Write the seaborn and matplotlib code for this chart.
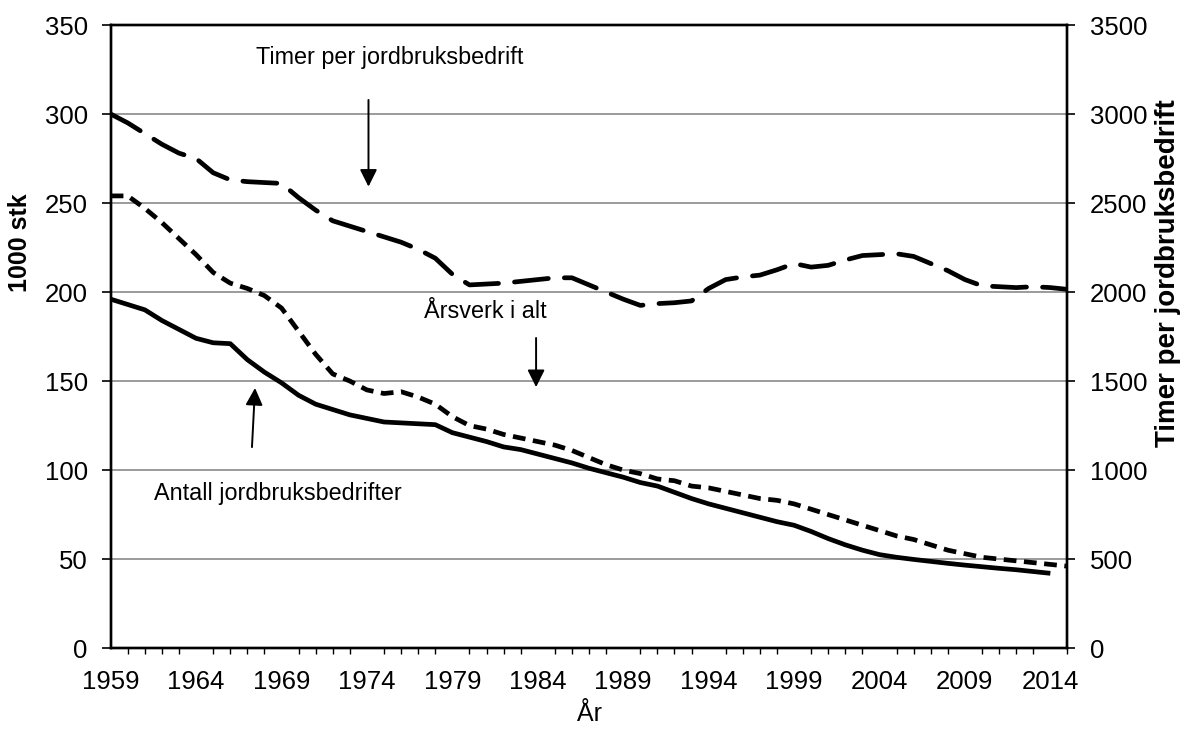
import numpy as np
import pandas as pd
import matplotlib
matplotlib.use("Agg")
import matplotlib.pyplot as plt
from matplotlib.ticker import FixedLocator, MultipleLocator
import seaborn as sns

# ---- data ----
years = list(range(1959, 2016))

antall = [196, 193, 190, 184, 179, 174, 171.5, 171, 162, 155,
          149, 142, 137, 134, 131, 129, 127, 126.5, 126, 125.5,
          121, 118.5, 116, 113, 111.5, 109, 106.5, 104, 101, 98.5,
          96, 93, 91, 87.5, 84, 81, 78.5, 76, 73.5, 71,
          69, 65.5, 61.5, 58, 55, 52.5, 51, 49.8, 48.7, 47.6,
          46.6, 45.7, 44.8, 44, 43, 42, np.nan]

arsverk = [254, 254, 247, 239, 230, 221, 211, 205, 202, 198,
           191, 178, 165, 154, 150, 145, 143, 144, 141, 137,
           130, 125, 123, 120, 118, 116, 114, 111, 107, 103,
           100, 98, 95, 94, 91, 90, 88, 86, 84, 83,
           81, 78, 75, 72, 69, 66, 63, 61, 58, 55,
           53, 51, 50, 49, 48, 47, 46]

timer = [3000, 2950, 2890, 2830, 2780, 2750, 2670, 2630, 2620, 2615,
         2610, 2530, 2460, 2400, 2370, 2340, 2310, 2280, 2240, 2190,
         2100, 2040, 2045, 2050, 2060, 2070, 2080, 2080, 2040, 2000,
         1960, 1925, 1935, 1940, 1950, 2020, 2070, 2085, 2095, 2125,
         2160, 2140, 2150, 2180, 2205, 2210, 2215, 2200, 2160, 2120,
         2070, 2035, 2030, 2025, 2030, 2025, 2015]

left_ticks = [0, 50, 100, 150, 200, 250, 300, 350]
right_ticks = [0, 500, 1000, 1500, 2000, 2500, 3000, 3500]
x_ticks = [1959, 1964, 1969, 1974, 1979, 1984, 1989, 1994, 1999, 2004, 2009, 2014]

label_timer = "Timer per jordbruksbedrift"
label_arsverk = "Årsverk i alt"
label_antall = "Antall jordbruksbedrifter"
ylabel_left = "1000 stk"
ylabel_right = "Timer per jordbruksbedrift"
xlabel = "År"

df = pd.DataFrame({"year": years, "antall": antall, "arsverk": arsverk, "timer": timer})

# ---- style ----
sns.set_style("white")
plt.rcParams["font.family"] = ["Liberation Sans", "DejaVu Sans"]
plt.rcParams["text.color"] = "black"
plt.rcParams["axes.labelcolor"] = "black"
plt.rcParams["xtick.color"] = "black"
plt.rcParams["ytick.color"] = "black"

fig = plt.figure(figsize=(11.9, 7.29), dpi=100)
ax = fig.add_axes([0.093, 0.111, 0.804, 0.8547])
ax2 = ax.twinx()

lw = 3.4
sns.lineplot(data=df, x="year", y="antall", ax=ax, color="black", lw=lw)
sns.lineplot(data=df, x="year", y="arsverk", ax=ax, color="black", lw=lw)
sns.lineplot(data=df, x="year", y="timer", ax=ax2, color="black", lw=lw)

lines = ax.get_lines()
lines[0].set_solid_capstyle("butt")
lines[1].set_dashes((2.7, 1.6))
lines[1].set_dash_capstyle("butt")
l3 = ax2.get_lines()[0]
l3.set_dashes((7.2, 3.4))
l3.set_dash_capstyle("round")

ax.set_xlim(1959, 2015)
ax.set_ylim(0, 350)
ax2.set_ylim(0, 3500)

ax.set_yticks(left_ticks)
ax2.set_yticks(right_ticks)
ax.xaxis.set_major_locator(FixedLocator(x_ticks))
ax.xaxis.set_minor_locator(MultipleLocator(1))

ax.grid(False)
ax2.grid(False)
for t in left_ticks[1:-1]:
    ax.axhline(t, color="#808080", lw=1.1, zorder=0)

for a in (ax, ax2):
    for s in a.spines.values():
        s.set_color("black")
        s.set_linewidth(1.7)
        s.set_visible(True)

ax.tick_params(axis="y", which="major", direction="out", length=6.5, width=1.2,
               color="black", labelsize=18.5, labelcolor="black", pad=10)
ax2.tick_params(axis="y", which="major", direction="out", length=6, width=1.2,
                color="black", labelsize=18.5, labelcolor="black", pad=10)
ax.tick_params(axis="x", which="major", direction="inout", length=11, width=1.2,
               color="black", labelsize=18.5, labelcolor="black", pad=10)
ax.tick_params(axis="x", which="minor", direction="out", length=4, width=1.0,
               color="black", bottom=True)

ax.set_xlabel(xlabel, fontsize=18, labelpad=6, color="black")
ax.set_ylabel(ylabel_left, fontsize=18, fontweight="bold", color="black")
ax2.set_ylabel(ylabel_right, fontsize=20, fontweight="bold", color="black")
ax.yaxis.set_label_coords(-0.082, 0.65)
ax2.yaxis.set_label_coords(1.092, 0.602)

# ---- annotations ----
arrow = dict(arrowstyle="-|>", color="black", lw=1.4, mutation_scale=26,
             shrinkA=0, shrinkB=0)
ax.text(1975.36, 332, label_timer, fontsize=16.8, ha="center", va="center", color="black")
ax.annotate("", xy=(1974.09, 259.2), xytext=(1974.09, 307.9), arrowprops=arrow)

ax.text(1980.93, 188.8, label_arsverk, fontsize=16.8, ha="center", va="center", color="black")
ax.annotate("", xy=(1983.9, 146.6), xytext=(1983.9, 174.2), arrowprops=arrow)

ax.text(1968.8, 87.1, label_antall, fontsize=16.8, ha="center", va="center", color="black")
ax.annotate("", xy=(1967.45, 146.1), xytext=(1967.27, 112.9), arrowprops=arrow)

fig.savefig("out.png", dpi=100)
